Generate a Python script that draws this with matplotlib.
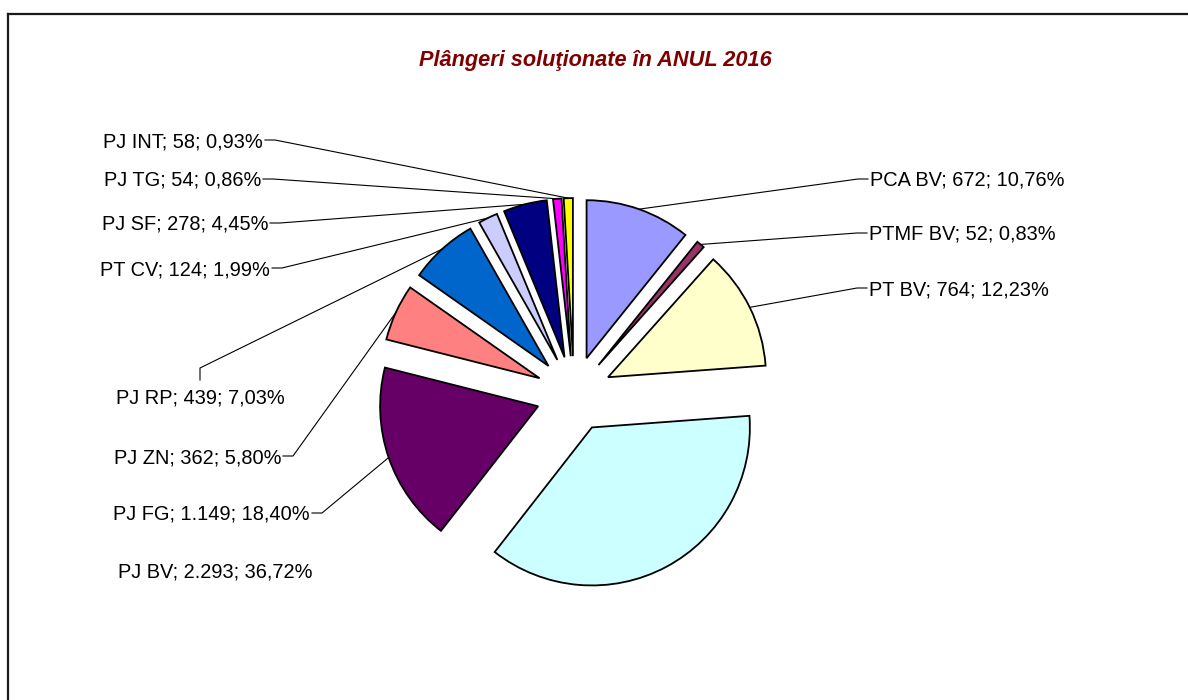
import numpy as np
import matplotlib.pyplot as plt
from matplotlib.lines import Line2D

plt.rcParams['font.family'] = ['Liberation Sans', 'DejaVu Sans']

# --- date ---
categorii = ['PCA BV', 'PTMF BV', 'PT BV', 'PJ BV', 'PJ FG', 'PJ ZN',
             'PJ RP', 'PT CV', 'PJ SF', 'PJ TG', 'PJ INT']
valori = [672, 52, 764, 2293, 1149, 362, 439, 124, 278, 54, 58]
procente = ['10,76%', '0,83%', '12,23%', '36,72%', '18,40%', '5,80%',
            '7,03%', '1,99%', '4,45%', '0,86%', '0,93%']
valori_text = ['672', '52', '764', '2.293', '1.149', '362',
               '439', '124', '278', '54', '58']
culori = ['#9999FF', '#993366', '#FFFFCC', '#CCFFFF', '#660066', '#FF8080',
          '#0066CC', '#CCCCFF', '#000080', '#FF00FF', '#FFFF00']
titlu = 'Plângeri soluţionate în ANUL 2016'

# --- geometrie (pixeli) ---
W, H = 1188, 700
CX, CY, R_PX = 574, 394, 158


def px(x, y):
    return (x - CX) / R_PX, (CY - y) / R_PX


# pozitii etichete: (x, baseline y, aliniere, tip leader)
etichete = {
    'PCA BV': (870, 186, 'left', 'h'),
    'PTMF BV': (869, 240, 'left', 'h'),
    'PT BV': (869, 295, 'left', 'h'),
    'PJ BV': (118, 577, 'left', None),
    'PJ FG': (310, 520, 'right', 'h'),
    'PJ ZN': (281, 463, 'right', 'h'),
    'PJ RP': (200, 403, 'center', 'v'),
    'PT CV': (270, 275, 'right', 'h'),
    'PJ SF': (268, 230, 'right', 'h'),
    'PJ TG': (261, 186, 'right', 'h'),
    'PJ INT': (263, 147, 'right', 'h'),
}

fig = plt.figure(figsize=(W / 100, H / 100), dpi=100)
ax = fig.add_axes([0, 0, 1, 1])

wedges, _ = ax.pie(valori, colors=culori, startangle=90, counterclock=False,
                   explode=[0.24] * len(valori), radius=1,
                   wedgeprops=dict(edgecolor='black', linewidth=1.3))

x0, y0 = px(0, H)
x1, y1 = px(W, 0)
ax.set_xlim(x0, x1)
ax.set_ylim(y0, y1)
ax.set_aspect('auto')
ax.axis('off')

for w, cat, val, pct in zip(wedges, categorii, valori_text, procente):
    lx, ly, ha, tip = etichete[cat]
    tx, ty = px(lx, ly)
    ax.text(tx, ty, f'{cat}; {val}; {pct}', fontsize=14.4, ha=ha, va='baseline',
            color='black')
    if tip is None:
        continue
    mid = np.deg2rad((w.theta1 + w.theta2) / 2)
    ax_x = w.center[0] + w.r * np.cos(mid)
    ax_y = w.center[1] + w.r * np.sin(mid)
    if tip == 'h':
        ymid = ly - 7
        if ha == 'left':
            p1, p2 = px(lx - 2, ymid), px(lx - 12, ymid)
        else:
            p1, p2 = px(lx + 2, ymid), px(lx + 12, ymid)
    else:
        p1, p2 = px(lx, ly - 23), px(lx, ly - 35)
    ax.plot([p1[0], p2[0], ax_x], [p1[1], p2[1], ax_y], color='black', lw=0.8)

fig.text(595 / W, 1 - 66 / H, titlu, fontsize=15.7, fontweight='bold',
         fontstyle='italic', color='#800000', ha='center', va='baseline')

# chenar
fx, fy = 7.5 / W, 1 - 13.5 / H
fig.add_artist(Line2D([fx, fx], [0, fy], color='#1a1a1a', lw=1.6))
fig.add_artist(Line2D([fx, 1], [fy, fy], color='#1a1a1a', lw=1.6))

fig.savefig('out.png', dpi=100)
